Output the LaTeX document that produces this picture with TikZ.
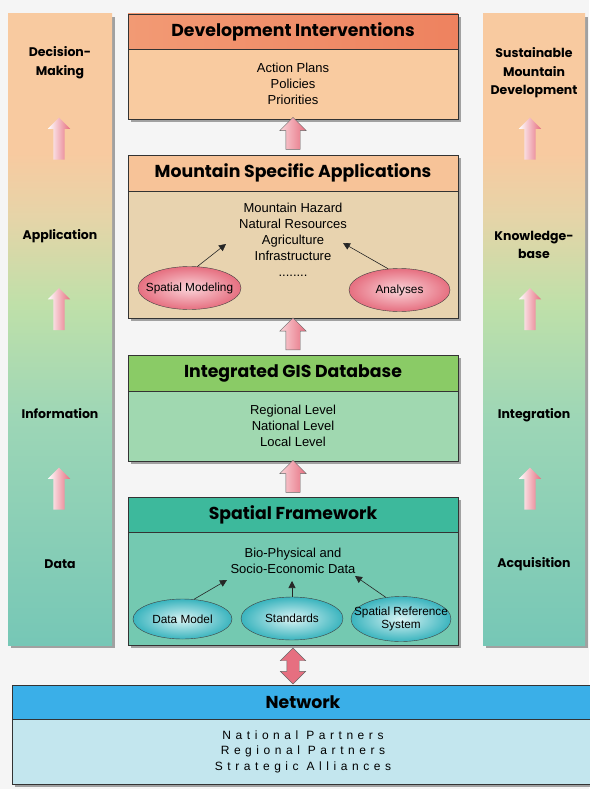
\documentclass[tikz,border=0pt]{standalone}
\usepackage{fontspec}
\setmainfont{Liberation Sans}
\newfontfamily\headfont{Poppins}
\newfontfamily\spacedfont[LetterSpace=38]{Liberation Sans}
\usetikzlibrary{positioning,shapes.geometric,shapes.arrows,arrows.meta,shadows}
\definecolor{bg}{HTML}{F5F5F5}
\definecolor{colpeach}{HTML}{F8CAA0}
\definecolor{coltan}{HTML}{E6D4A8}
\definecolor{colgreen}{HTML}{BFE0A9}
\definecolor{colmint}{HTML}{9DD6B6}
\definecolor{colbot}{HTML}{76C7B6}
\definecolor{orangehead}{HTML}{F29A74}
\definecolor{orangedark}{HTML}{EE825F}
\definecolor{orangelight}{HTML}{FCE4D6}
\definecolor{peach}{HTML}{F9CBA0}
\definecolor{peachhead}{HTML}{F7C398}
\definecolor{peachlight}{HTML}{FCE2CC}
\definecolor{tanbody}{HTML}{E8D3AF}
\definecolor{greenhead}{HTML}{8ACB66}
\definecolor{greenlight}{HTML}{DDF2D0}
\definecolor{mint}{HTML}{A0D8B0}
\definecolor{tealhead}{HTML}{3DB99C}
\definecolor{teallight}{HTML}{C4ECE2}
\definecolor{sfbodycol}{HTML}{74C9B1}
\definecolor{bluehead}{HTML}{3AAFE8}
\definecolor{bluelight}{HTML}{F2FAFE}
\definecolor{netbodycol}{HTML}{C3E6EE}
\definecolor{pinkdark}{HTML}{E66F80}
\definecolor{pinklight}{HTML}{FAD4D9}
\definecolor{cyandark}{HTML}{3AB4BE}
\definecolor{cyanlight}{HTML}{DAF4F4}
\pgfdeclareverticalshading{colshade}{100bp}{color(0bp)=(colbot); color(25bp)=(colbot); color(43bp)=(colmint); color(52bp)=(colgreen); color(59bp)=(coltan); color(64bp)=(colpeach); color(100bp)=(colpeach)}

\begin{document}
\begin{tikzpicture}[x=1pt, y=-1pt,
  boxshadow/.style={drop shadow={shadow xshift=3pt, shadow yshift=-3pt, fill=black!45, opacity=.8}},
  column/.style={minimum height=631pt, inner sep=0pt, shading=colshade, boxshadow},
  collabel/.style={font=\headfont\bfseries\fontsize{12.5}{18.5}\selectfont, align=center},
  head/.style={draw=black!80, minimum width=330pt, minimum height=35pt, inner sep=0pt, outer sep=0pt, font=\headfont\bfseries\fontsize{17.3}{18}\selectfont, boxshadow},
  body/.style={draw=black!80, minimum width=330pt, inner sep=0pt, outer sep=0pt, align=center, font=\fontsize{13}{16}\selectfont, boxshadow},
  upstep/.style={single arrow, rotate=90, draw=black!60, minimum height=32pt, inner xsep=0pt, inner ysep=7pt, single arrow head extend=6pt, left color=pinklight, right color=pinkdark},
  sidestep/.style={single arrow, rotate=90, minimum height=42pt, inner xsep=0pt, inner ysep=5.5pt, single arrow head extend=5.5pt, left color=white, right color=pinkdark},
  oval/.style={ellipse, draw=black!75, minimum width=102pt, minimum height=43pt, inner sep=0pt, label={[align=center, font=\fontsize{11.8}{12.5}\selectfont]center:#1}},
  pinkoval/.style={oval=#1, inner color=pinklight, outer color=pinkdark},
  cyanoval/.style={oval=#1, inner color=cyanlight, outer color=cyandark},
  ptr/.style={-{Triangle[width=7pt,length=7pt]}, line width=0.6pt, black!85}]
\path[use as bounding box, fill=bg] (0,0) rectangle (589,789);

\node[column, minimum width=104pt] (leftcol) at (60,329.5) {};
\node[column, minimum width=102pt] (rightcol) at (534,329.5) {};
\node[collabel] (decision) at (60,62.5) {Decision-\\Making};
\node[collabel] (application) at (60,236) {Application};
\node[collabel] (information) at (60,414) {Information};
\node[collabel] (data) at (60,564) {Data};
\node[collabel] (sustainable) at (534,73) {Sustainable\\Mountain\\Development};
\node[collabel] (knowledge) at (534,245) {Knowledge-\\base};
\node[collabel] (integration) at (534,415) {Integration};
\node[collabel] (acquisition) at (534,564) {Acquisition};
\node[sidestep] (lstepa) at (59,141.5) {};
\node[sidestep] (lstepb) at (59,312) {};
\node[sidestep] (lstepc) at (59,491.5) {};
\node[sidestep] (rstepa) at (530,141.5) {};
\node[sidestep] (rstepb) at (530,312) {};
\node[sidestep] (rstepc) at (530,491.5) {};

\node[head, left color=orangehead, middle color=orangelight, right color=orangedark] (devhead) at (293,31.5) {Development Interventions};
\node[body, fill=peach, minimum height=70pt, below=0pt of devhead] (devbody) {Action Plans\\Policies\\Priorities};
\node[upstep] (devstep) at (293,137) {};

\node[head, left color=peachhead, middle color=peachlight, right color=peachhead, minimum height=36pt] (apphead) at (293,173) {Mountain Specific Applications};
\node[body, fill=tanbody, minimum height=127pt, below=0pt of apphead] (appbody) {};
\node[align=center, font=\fontsize{13}{16}\selectfont] (apptext) at (293,240) {Mountain Hazard\\Natural Resources\\Agriculture\\Infrastructure\\........};
\node[pinkoval={Spatial Modeling}, minimum width=103pt] (modeling) at (189.5,288) {};
\node[pinkoval=Analyses, minimum width=101pt] (analyses) at (399.5,290) {};
\coordinate (modtip) at (226,244);
\coordinate (anatip) at (343,243);
\draw[ptr] (modeling.70) -- (modtip);
\draw[ptr] (analyses.118) -- (anatip);
\node[upstep] (appstep) at (293,337.5) {};

\node[head, left color=greenhead, middle color=greenlight, right color=greenhead, minimum height=36pt] (gishead) at (293,373) {Integrated GIS Database};
\node[body, fill=mint, minimum height=70pt, below=0pt of gishead] (gisbody) {Regional Level\\National Level\\Local Level};
\node[upstep] (gisstep) at (293,480) {};

\node[head, left color=tealhead, middle color=teallight, right color=tealhead] (sfhead) at (293,514.5) {Spatial Framework};
\node[body, fill=sfbodycol, minimum height=113pt, below=0pt of sfhead] (sfbody) {};
\node[align=center, font=\fontsize{13}{16}\selectfont] (sftext) at (293,561) {Bio-Physical and\\Socio-Economic Data};
\node[cyanoval={Data Model}, minimum width=99pt, minimum height=40pt] (datamodel) at (182.5,619) {};
\node[cyanoval=Standards] (standards) at (292,618.5) {};
\node[cyanoval={Spatial Reference\\System}, minimum width=100pt, minimum height=45pt] (srs) at (401,619) {};
\coordinate (datatip) at (227,580);
\coordinate (stdtip) at (292,581);
\coordinate (srstip) at (355,576);
\draw[ptr] (datamodel.60) -- (datatip);
\draw[ptr] (standards.north) -- (stdtip);
\draw[ptr] (srs.125) -- (srstip);

\node[double arrow, rotate=90, draw=black!60, minimum height=36pt, inner xsep=0pt, inner ysep=6pt, double arrow head extend=6.5pt, left color=pinkdark, middle color=pinklight, right color=pinkdark] (netstep) at (293,666) {};

\node[head, minimum width=582pt, minimum height=34pt, left color=bluehead, middle color=bluelight, right color=bluehead] (nethead) at (303,702) {Network};
\node[body, fill=netbodycol, minimum width=582pt, minimum height=65pt, below=0pt of nethead, font=\spacedfont\fontsize{12}{15.5}\selectfont] (netbody) {National Partners\\Regional Partners\\Strategic Alliances};
\end{tikzpicture}
\end{document}
